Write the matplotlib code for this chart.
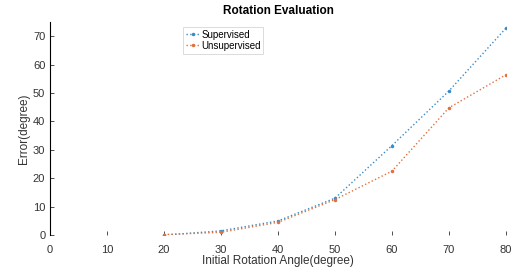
import matplotlib
matplotlib.use("Agg")
import matplotlib.pyplot as plt

plt.rcParams['font.family'] = ['Liberation Sans', 'DejaVu Sans']

angles = [20, 30, 40, 50, 60, 70, 80]
supervised = [0.0, 1.5, 5.0, 13.0, 31.5, 50.7, 72.8]
unsupervised = [0.2, 1.0, 4.5, 12.5, 22.5, 44.8, 56.4]
xticks = [0, 10, 20, 30, 40, 50, 60, 70, 80]
yticks = [0, 10, 20, 30, 40, 50, 60, 70]

fig = plt.figure(figsize=(5.28, 2.75), dpi=100)
ax = fig.add_axes([0.095, 0.145, 0.863, 0.775])
ax.plot(angles, supervised, linestyle=':', marker='.', markersize=3,
        color='#3a8cc8', linewidth=1.0, label='Supervised')
ax.plot(angles, unsupervised, linestyle=':', marker='.', markersize=3,
        color='#e07040', linewidth=1.0, label='Unsupervised')
ax.set_xlim(0, 80)
ax.set_ylim(0, 75)
ax.set_xticks(xticks)
ax.set_yticks(yticks)
ax.tick_params(axis='x', pad=7)
ax.tick_params(labelsize=8, length=3, width=0.6, direction='in', colors='#333333')
for s in ['top', 'right', 'bottom']:
    ax.spines[s].set_visible(False)
ax.spines['left'].set_linewidth(0.8)
ax.set_xlabel('Initial Rotation Angle(degree)', fontsize=8.5, labelpad=0, color='#333333')
ax.set_ylabel('Error(degree)', fontsize=8.5, labelpad=2, color='#333333')
ax.set_title('Rotation Evaluation', fontsize=8.5, fontweight='bold', pad=6)
leg = ax.legend(loc='upper left', bbox_to_anchor=(0.28, 1.0), fontsize=7,
                frameon=True, fancybox=False, edgecolor='#cccccc',
                handlelength=1.5, handletextpad=0.1, borderpad=0.3, labelspacing=0.1)
leg.get_frame().set_linewidth(0.6)
fig.savefig('out.png', dpi=100)
